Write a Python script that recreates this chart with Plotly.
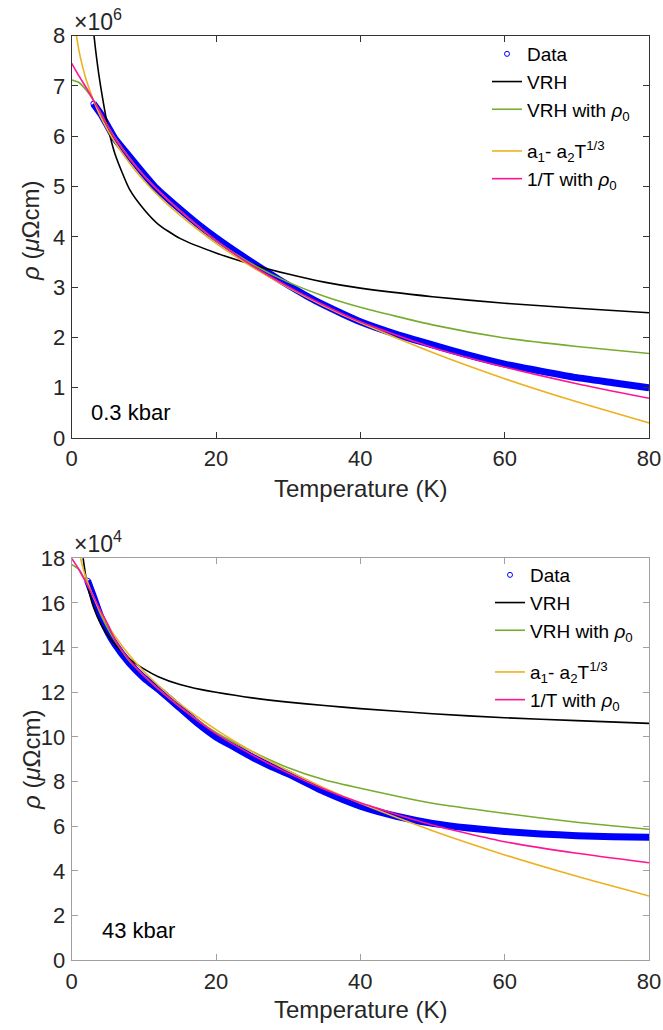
import plotly.graph_objects as go

# ---------------- data (top panel: 0.3 kbar, rho in units of 1e6 uOhm cm) ----------------
T_data_top = [3, 4, 5, 6, 8, 10, 11.5, 13, 15, 17.5, 20, 22.5, 25, 27.5, 30, 32.5, 35, 37.5, 40, 45, 50, 55, 60, 65, 70, 75, 80]
rho_data_top = [6.65, 6.45, 6.2, 5.95, 5.6, 5.25, 5.0, 4.8, 4.55, 4.25, 3.98, 3.73, 3.49, 3.26, 3.04, 2.83, 2.64, 2.47, 2.31, 2.06, 1.85, 1.65, 1.47, 1.33, 1.2, 1.1, 1.0]

T_vrh_top = [2.5, 3, 3.5, 4, 5, 6, 8, 10, 12, 15, 20, 25, 30, 35, 40, 50, 60, 70, 80]
rho_vrh_top = [9.0, 8.13, 7.5, 7.0, 6.2, 5.65, 4.95, 4.55, 4.25, 3.97, 3.68, 3.45, 3.26, 3.1, 2.98, 2.81, 2.68, 2.58, 2.49]

T_vrh0_top = [0, 1, 2, 3, 4, 5, 6, 8, 10, 12, 15, 20, 25, 30, 35, 40, 50, 60, 70, 80]
rho_vrh0_top = [7.12, 7.07, 6.92, 6.72, 6.46, 6.2, 5.97, 5.57, 5.22, 4.92, 4.52, 3.92, 3.46, 3.1, 2.82, 2.6, 2.25, 1.99, 1.82, 1.68]

T_pow_top = [0.2, 0.5, 1, 1.5, 2, 3, 4, 5, 6, 8, 10, 12, 15, 20, 25, 30, 35, 40, 50, 60, 70, 80]
rho_pow_top = [8.64, 8.17, 7.71, 7.39, 7.13, 6.72, 6.39, 6.12, 5.88, 5.47, 5.12, 4.82, 4.43, 3.87, 3.40, 2.99, 2.62, 2.29, 1.70, 1.18, 0.72, 0.30]

T_inv_top = [0, 1, 2, 3, 4, 5, 6, 8, 10, 12, 15, 20, 25, 30, 35, 40, 50, 60, 70, 80]
rho_inv_top = [7.45, 7.2, 6.97, 6.72, 6.47, 6.2, 5.96, 5.56, 5.22, 4.92, 4.52, 3.93, 3.43, 3.01, 2.64, 2.31, 1.8, 1.41, 1.08, 0.79]

# ---------------- data (bottom panel: 43 kbar, rho in units of 1e4 uOhm cm) ----------------
T_data_bot = [2.2, 3, 4, 5, 6, 8, 10, 12.5, 15, 17.5, 20, 22.5, 25, 27.5, 30, 35, 40, 45, 50, 55, 60, 65, 70, 75, 80]
rho_data_bot = [17.0, 16.3, 15.4, 14.7, 14.15, 13.3, 12.65, 12.0, 11.3, 10.6, 10.0, 9.55, 9.1, 8.7, 8.35, 7.55, 6.9, 6.45, 6.13, 5.92, 5.77, 5.66, 5.58, 5.53, 5.51]

T_vrh_bot = [1.5, 2, 2.5, 3, 4, 5, 6, 8, 10, 12, 15, 18, 20, 25, 30, 35, 40, 50, 60, 70, 80]
rho_vrh_bot = [18.2, 17.1, 16.38, 15.83, 15.07, 14.54, 14.14, 13.5, 13.05, 12.7, 12.35, 12.12, 12.0, 11.75, 11.56, 11.41, 11.27, 11.04, 10.86, 10.73, 10.61]

T_vrh0_bot = [0, 1, 2, 3, 4, 5, 6, 8, 10, 12, 15, 20, 25, 30, 35, 40, 50, 60, 70, 80]
rho_vrh0_bot = [17.72, 17.5, 16.95, 16.3, 15.5, 14.85, 14.3, 13.4, 12.75, 12.15, 11.35, 10.2, 9.35, 8.62, 8.08, 7.7, 7.03, 6.58, 6.18, 5.87]

T_pow_bot = [0.2, 0.5, 1, 1.5, 2, 3, 4, 5, 6, 8, 10, 12, 15, 20, 25, 30, 35, 40, 50, 60, 70, 80]
rho_pow_bot = [20.27, 19.29, 18.33, 17.65, 17.12, 16.27, 15.59, 15.01, 14.51, 13.66, 12.94, 12.31, 11.48, 10.33, 9.35, 8.49, 7.72, 7.03, 5.80, 4.72, 3.76, 2.88]

T_inv_bot = [0, 1, 2, 3, 4, 5, 6, 8, 10, 12, 15, 20, 25, 30, 35, 40, 50, 60, 70, 80]
rho_inv_bot = [18.0, 17.5, 16.9, 16.3, 15.65, 15.05, 14.35, 13.45, 12.75, 12.15, 11.35, 10.15, 9.2, 8.38, 7.66, 7.05, 6.06, 5.31, 4.79, 4.37]

x_ticks = [0, 20, 40, 60, 80]
y_ticks_top = [0, 1, 2, 3, 4, 5, 6, 7, 8]
y_ticks_bot = [0, 2, 4, 6, 8, 10, 12, 14, 16, 18]

names = ["Data", "VRH", "VRH with <i>ρ</i><sub>0</sub>",
         "a<sub>1</sub>- a<sub>2</sub>T<sup>1/3</sup>", "1/T with <i>ρ</i><sub>0</sub>"]
groups = ["g1", "g1", "g1", "g2", "g2"]
colors = {"data": "#0000ff", "vrh": "#000000", "vrh0": "#77ac30", "pow": "#edb120", "inv": "#ff1493"}

# the page body margin is removed (see post_script), so the figure fills the window
W, H = 663, 1030
FONT = "Liberation Sans, Arial, Helvetica, sans-serif"


def px_x(p):
    return p / W


def px_y(p):
    return 1 - p / H


fig = go.Figure()


def add_panel(xa, ya, leg, Td, rd, fits):
    # thick band formed by the dense data points
    fig.add_trace(go.Scatter(x=Td, y=rd, mode="lines",
                             line=dict(color=colors["data"], width=7, shape="spline", smoothing=0.5),
                             xaxis=xa, yaxis=ya, showlegend=False, hoverinfo="skip"))
    fig.add_trace(go.Scatter(x=Td, y=rd, mode="markers", name=names[0], legendgroup=groups[0],
                             marker=dict(symbol="circle-open", size=5, color=colors["data"],
                                         line=dict(width=1, color=colors["data"])),
                             xaxis=xa, yaxis=ya, legend=leg))
    for (T, r, key), nm, g in zip(fits, names[1:], groups[1:]):
        fig.add_trace(go.Scatter(x=T, y=r, mode="lines", name=nm, legendgroup=g,
                                 line=dict(color=colors[key], width=1.6, shape="spline", smoothing=0.6),
                                 xaxis=xa, yaxis=ya, legend=leg))


add_panel("x", "y", "legend", T_data_top, rho_data_top,
          [(T_vrh_top, rho_vrh_top, "vrh"), (T_vrh0_top, rho_vrh0_top, "vrh0"),
           (T_pow_top, rho_pow_top, "pow"), (T_inv_top, rho_inv_top, "inv")])
add_panel("x2", "y2", "legend2", T_data_bot, rho_data_bot,
          [(T_vrh_bot, rho_vrh_bot, "vrh"), (T_vrh0_bot, rho_vrh0_bot, "vrh0"),
           (T_pow_bot, rho_pow_bot, "pow"), (T_inv_bot, rho_inv_bot, "inv")])


def axis_style(color, **kw):
    d = dict(showline=True, linecolor=color, linewidth=1, mirror="ticks", ticks="inside",
             ticklen=6, tickwidth=1, tickcolor=color, showgrid=False, zeroline=False,
             tickfont=dict(family=FONT, size=22, color="#262626"), automargin=False)
    d.update(kw)
    return d


xdom = [px_x(71.7), px_x(649)]
top_col = "#333333"
bot_col = "#a0a0a0"
legend_common = dict(xanchor="left", yanchor="top", bgcolor="rgba(0,0,0,0)",
                     font=dict(family=FONT, size=19, color="#000000"), itemwidth=30,
                     tracegroupgap=14, traceorder="grouped")
fig.update_layout(
    width=W, height=H, margin=dict(l=0, r=0, t=0, b=0),
    paper_bgcolor="white", plot_bgcolor="white",
    font=dict(family=FONT, color="#262626"),
    xaxis=axis_style(top_col, domain=xdom, anchor="y", range=[0, 80], tickvals=x_ticks, ticklabelstandoff=1),
    yaxis=axis_style(top_col, domain=[px_y(438), px_y(35.7)], anchor="x", range=[0, 8],
                     tickvals=y_ticks_top, ticklabelstandoff=1),
    xaxis2=axis_style(bot_col, domain=xdom, anchor="y2", range=[0, 80], tickvals=x_ticks, ticklabelstandoff=1),
    yaxis2=axis_style(bot_col, domain=[px_y(960.3), px_y(558.3)], anchor="x2", range=[0, 18],
                      tickvals=y_ticks_bot, ticklabelstandoff=1),
    legend=dict(x=px_x(487), y=px_y(35), **legend_common),
    legend2=dict(x=px_x(490), y=px_y(556), **legend_common),
)

ann = []
title_font = dict(family=FONT, size=24, color="#262626")
for yc in (489, 1009):
    ann.append(dict(text="Temperature (K)", x=px_x(360), y=px_y(yc), xref="paper", yref="paper",
                    xanchor="center", yanchor="middle", showarrow=False, font=title_font))
for yc in (231, 760):
    ann.append(dict(text="<i>ρ</i> (<i>μ</i>Ωcm)", x=px_x(31), y=px_y(yc), xref="paper", yref="paper",
                    xanchor="center", yanchor="middle", textangle=-90, showarrow=False, font=title_font))
for txt, yb in (("×10<sup>6</sup>", 37), ("×10<sup>4</sup>", 559)):
    ann.append(dict(text=txt, x=px_x(72), y=px_y(yb), xref="paper", yref="paper",
                    xanchor="left", yanchor="bottom", showarrow=False,
                    font=dict(family=FONT, size=23, color="#262626")))
ann.append(dict(text="0.3 kbar", x=px_x(89), y=px_y(412), xref="paper", yref="paper",
                xanchor="left", yanchor="middle", showarrow=False, font=dict(family=FONT, size=22, color="#000000")))
ann.append(dict(text="43 kbar", x=px_x(100), y=px_y(930), xref="paper", yref="paper",
                xanchor="left", yanchor="middle", showarrow=False, font=dict(family=FONT, size=22, color="#000000")))
fig.update_layout(annotations=ann)

fig.write_html("out.html", config={"displayModeBar": False},
               post_script="document.body.style.margin='0px';document.body.style.padding='0px';")
